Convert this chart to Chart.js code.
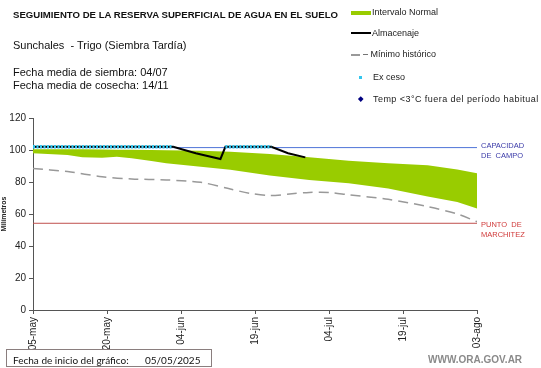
<!DOCTYPE html>
<html>
<head>
<meta charset="utf-8">
<script src="https://cdn.jsdelivr.net/npm/chart.js@4"></script>
<style>
  body { margin: 0; background: #fff; }
  #wrap { position: relative; width: 541px; height: 368px; overflow: hidden; font-family: "Liberation Sans", Arial, sans-serif; color: #111; }
  #grafico { position: absolute; left: 0; top: 0; }
  .txt { position: absolute; white-space: pre; line-height: 1; }
  .leg { position: absolute; font-size: 9px; color: #222; white-space: pre; line-height: 1; }
</style>
</head>
<body>
<div id="wrap">
  <canvas id="grafico" width="541" height="368"></canvas>

  <div class="txt" style="left:13px; top:10px; font-size:9.6px; font-weight:bold;">SEGUIMIENTO DE LA RESERVA SUPERFICIAL DE AGUA EN EL SUELO</div>
  <div class="txt" style="left:13px; top:40px; font-size:11px;">Sunchales  - Trigo (Siembra Tardía)</div>
  <div class="txt" style="left:13px; top:67px; font-size:11px;">Fecha media de siembra: 04/07</div>
  <div class="txt" style="left:13px; top:80px; font-size:11px;">Fecha media de cosecha: 14/11</div>

  <!-- leyenda -->
  <div style="position:absolute; left:351px; top:11px; width:20px; height:4px; background:#99cc00;"></div>
  <div class="leg" style="left:372px; top:8px;">Intervalo Normal</div>
  <div style="position:absolute; left:351px; top:32px; width:20px; height:2px; background:#000;"></div>
  <div class="leg" style="left:372px; top:29px;">Almacenaje</div>
  <div style="position:absolute; left:351px; top:54px; width:9px; height:1.5px; background:#999;"></div>
  <div class="leg" style="left:363px; top:50px;">– Mínimo histórico</div>
  <div style="position:absolute; left:359px; top:76px; width:3px; height:3px; background:#33c6ee;"></div>
  <div class="leg" style="left:373px; top:73px;">Ex ceso</div>
  <div style="position:absolute; left:359px; top:97px; width:3.5px; height:3.5px; background:#000080; transform:rotate(45deg);"></div>
  <div class="leg" style="left:373px; top:95px; letter-spacing:0.45px;">Temp <3°C fuera del período habitual</div>

  <!-- etiquetas de referencia -->
  <div class="txt" style="left:481px; top:141px; font-size:7.5px; color:#3a3aa8; line-height:10px;">CAPACIDAD
DE  CAMPO</div>
  <div class="txt" style="left:481px; top:220px; font-size:7.5px; color:#d03a3a; line-height:9.5px;">PUNTO  DE
MARCHITEZ</div>

  <div style="position:absolute; left:6px; top:349px; width:206px; height:18px; border:1px solid #8a7e7e; box-sizing:border-box;"></div>
  <div class="txt" style="left:13px; top:355px; font-family:Lato, sans-serif; font-size:10px;">Fecha de inicio del gráfico:</div>
  <div class="txt" style="left:145px; top:355px; font-family:Lato, sans-serif; font-size:10px;">05/05/2025</div>

  <div class="txt" style="left:428px; top:355px; font-size:10px; font-weight:bold; color:#8a8a8a;">WWW.ORA.GOV.AR</div>
</div>

<script>
// Etiquetas del eje X (cada 15 dias desde el 05-may)
const fechas = ['05-may', '20-may', '04-jun', '19-jun', '04-jul', '19-jul', '03-ago'];

// Intervalo normal (dias desde inicio, limite inferior y superior en mm)
const diasBanda = [0, 7, 10, 14, 17, 20, 24, 27, 34, 40, 48, 56, 64, 72, 80, 86, 90];
const normalInf = [97.9, 96.9, 95.4, 95.2, 95.8, 94.8, 93.1, 91.7, 89.6, 87.6, 84, 81.3, 79.2, 76, 71, 67.5, 63.5];
const normalSup = [100.5, 100.5, 100.4, 100.3, 100.2, 100.1, 100, 99.9, 99.5, 98.9, 97.5, 95.4, 93.3, 91.7, 90.4, 87.8, 85.4];

// Minimo historico
const diasMinimo = [0, 7, 14, 20, 27, 34, 40, 44, 48, 52, 56, 60, 64, 72, 80, 86, 90];
const minimoHist = [88.5, 86.5, 83.3, 81.9, 81.3, 79.8, 75.6, 72.9, 71.5, 72.5, 73.5, 73.5, 72, 69.2, 64.6, 60, 55.2];

// Almacenaje observado
const diasAlm = [0, 28.4, 33, 38, 39, 48.3, 51.7, 55.2];
const almacenaje = [102, 102, 98, 94.4, 102, 102, 98, 95.4];

// Exceso (null corta la linea)
const diasExceso = [0, 28.4, 33, 39, 48.3];
const exceso = [102, 102, null, 102, 102];

// Lineas de referencia
const capacidadCampo = 101.5;
const puntoMarchitez = 54.2;
const diasTotal = 90;

function puntos(xs, ys) {
    return xs.map((x, i) => ({ x: x, y: ys[i] }));
}

const ctx = document.getElementById('grafico').getContext('2d');
new Chart(ctx, {
    type: 'line',
    data: {
        datasets: [
            {
                label: 'Exceso',
                data: puntos(diasExceso, exceso),
                borderColor: '#33c6ee',
                borderWidth: 3.5,
                borderDash: [2, 1.5],
                pointRadius: 0,
                spanGaps: false
            },
            {
                label: 'Almacenaje',
                data: puntos(diasAlm, almacenaje),
                borderColor: '#000',
                borderWidth: 2,
                pointRadius: 0
            },
            {
                label: 'Capacidad de campo',
                data: puntos([0, diasTotal], [capacidadCampo, capacidadCampo]),
                borderColor: '#4f74d8',
                borderWidth: 1,
                pointRadius: 0
            },
            {
                label: 'Punto de marchitez',
                data: puntos([0, diasTotal], [puntoMarchitez, puntoMarchitez]),
                borderColor: '#c0504d',
                borderWidth: 1,
                pointRadius: 0
            },
            {
                label: 'Mínimo histórico',
                data: puntos(diasMinimo, minimoHist),
                borderColor: '#999',
                borderWidth: 1.5,
                borderDash: [10, 6],
                pointRadius: 0,
                tension: 0.3
            },
            {
                label: 'Normal inf',
                data: puntos(diasBanda, normalInf),
                borderWidth: 0,
                borderColor: 'rgba(0,0,0,0)',
                pointRadius: 0
            },
            {
                label: 'Intervalo Normal',
                data: puntos(diasBanda, normalSup),
                borderWidth: 0,
                borderColor: 'rgba(0,0,0,0)',
                backgroundColor: '#99cc00',
                fill: '-1',
                pointRadius: 0
            }
        ]
    },
    options: {
        responsive: false,
        animation: false,
        layout: { padding: { top: 118, right: 64, left: 0, bottom: 0 } },
        plugins: {
            legend: { display: false },
            tooltip: { enabled: false }
        },
        scales: {
            x: {
                type: 'linear',
                min: 0,
                max: diasTotal,
                afterFit: function (scale) { scale.height = 58; },
                ticks: {
                    stepSize: 15,
                    autoSkip: false,
                    maxRotation: 90,
                    minRotation: 90,
                    color: '#222',
                    font: { family: 'Liberation Sans', size: 10 },
                    callback: function (v) { return fechas[v / 15]; }
                },
                grid: { drawOnChartArea: false, tickLength: 4, color: '#555' },
                border: { color: '#555' }
            },
            y: {
                min: 0,
                max: 120,
                afterFit: function (scale) { scale.width = 33; },
                ticks: {
                    stepSize: 20,
                    color: '#222',
                    font: { family: 'Liberation Sans', size: 10 }
                },
                grid: { drawOnChartArea: false, tickLength: 4, color: '#555' },
                border: { color: '#555' },
                title: {
                    display: true,
                    text: 'Milímetros',
                    color: '#222',
                    font: { family: 'Liberation Sans', size: 7, weight: 'bold' },
                    padding: { top: 0, bottom: 0 }
                }
            }
        }
    }
});
</script>
</body>
</html>
